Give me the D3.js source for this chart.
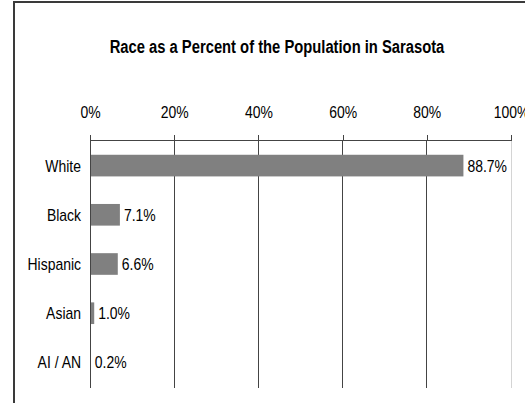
<!DOCTYPE html>
<html>
<head>
<meta charset="utf-8">
<script src="https://cdn.jsdelivr.net/npm/d3@7"></script>
<style>
  body { margin: 0; background: #fff; }
  svg { display: block; font-family: "Liberation Sans", Arial, sans-serif; }
</style>
</head>
<body>
<svg id="chart" width="525" height="403"></svg>
<script>
// chart data
var categories = ["White", "Black", "Hispanic", "Asian", "AI / AN"];
var values = [88.7, 7.1, 6.6, 1.0, 0.2];
var tickValues = [0, 20, 40, 60, 80, 100];
var title = "Race as a Percent of the Population in Sarasota";

// squeeze text horizontally to mimic a narrow font
function narrow(sel) {
  sel.each(function() {
    var w = this.getComputedTextLength();
    d3.select(this).attr("textLength", w * 0.82).attr("lengthAdjust", "spacingAndGlyphs");
  });
}

// define svg parameters
var svg = d3.select("#chart"),
  margin = {top: 140, left: 90, right: 14, bottom: 16},
  width = +svg.attr("width") - margin.left - margin.right,
  height = 248;

// outer chart border (left + top)
svg.append("path")
  .attr("d", "M14,403V2H525")
  .attr("fill", "none")
  .attr("stroke", "#3a3a3a")
  .attr("stroke-width", 2);

// title
svg.append("text")
  .attr("x", 277)
  .attr("y", 53)
  .attr("text-anchor", "middle")
  .attr("font-weight", "bold")
  .attr("font-size", 18)
  .text(title)
  .call(narrow);

// scales
var x = d3.scaleLinear().domain([0, 100]).range([0, width]);
var y = d3.scaleBand().domain(categories).range([0, height])
  .paddingInner(0.56).paddingOuter(0.3);

var g = svg.append("g")
  .attr("transform", "translate(" + margin.left + "," + margin.top + ")");

// vertical gridlines
g.selectAll(".grid")
  .data(tickValues)
  .enter().append("line")
  .attr("x1", function(d) { return x(d); })
  .attr("x2", function(d) { return x(d); })
  .attr("y1", 0)
  .attr("y2", height)
  .attr("stroke", function(d) { return d === 100 ? "#d4d4d4" : "#444"; })
  .attr("stroke-width", 1)
  .attr("shape-rendering", "crispEdges");

// top axis
var axis = g.append("g")
  .call(d3.axisTop(x).tickValues(tickValues).tickSize(5).tickPadding(17)
    .tickFormat(function(d) { return d + "%"; }));
axis.attr("font-family", null);
axis.select(".domain").attr("stroke", "#444").attr("shape-rendering", "crispEdges");
axis.selectAll(".tick line").attr("stroke", "#444").attr("shape-rendering", "crispEdges");
axis.selectAll(".tick text")
  .attr("font-size", 17)
  .attr("fill", "#000")
  .call(narrow);

// category labels
g.selectAll(".cat")
  .data(categories)
  .enter().append("text")
  .attr("x", -9)
  .attr("y", function(d) { return y(d) + y.bandwidth() / 2; })
  .attr("dy", "0.35em")
  .attr("text-anchor", "end")
  .attr("font-size", 17)
  .text(function(d) { return d; })
  .call(narrow);

// bars
g.selectAll("rect")
  .data(values)
  .enter().append("rect")
  .attr("x", x(0) + 1)
  .attr("y", function(d, i) { return y(categories[i]); })
  .attr("width", function(d) { return Math.max(0, x(d) - 1); })
  .attr("height", y.bandwidth())
  .attr("fill", "#808080");

// value labels
g.selectAll(".val")
  .data(values)
  .enter().append("text")
  .attr("x", function(d) { return x(d) + 4; })
  .attr("y", function(d, i) { return y(categories[i]) + y.bandwidth() / 2; })
  .attr("dy", "0.35em")
  .attr("font-size", 17)
  .text(function(d) { return d.toFixed(1) + "%"; })
  .call(narrow);
</script>
</body>
</html>
